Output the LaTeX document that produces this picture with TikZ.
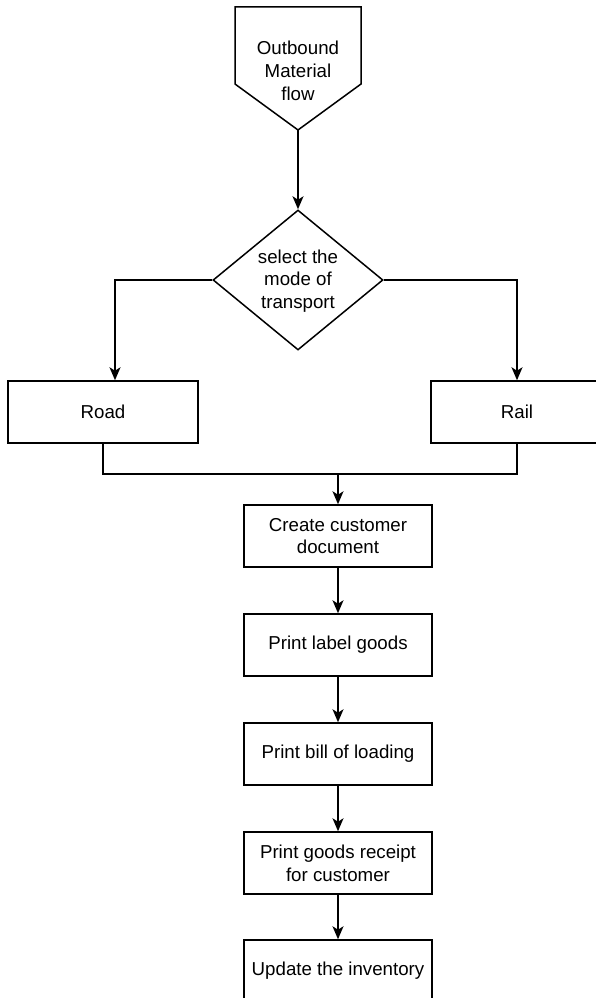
\documentclass[tikz,border=0pt]{standalone}
\usepackage{fontspec}
\setmainfont{Liberation Sans}
\usetikzlibrary{shapes.geometric,arrows.meta,calc}
\begin{document}
\begin{tikzpicture}[x=1pt,y=-1pt,
  line width=1.5pt,
  txt/.style={font=\fontsize{18.7}{22.8}\selectfont, align=center, inner sep=0pt},
  box/.style={draw, rectangle, minimum width=188pt, minimum height=62pt, inner sep=0pt, font=\fontsize{18.7}{22.8}\selectfont, align=center},
  arr/.style={-{Stealth[length=13pt,width=11pt,inset=3.5pt]}},
  conn/.style={line join=miter}]
\useasboundingbox (0,0) rectangle (596,998);
% start pentagon
\draw[conn] (235,7) -- (361,7) -- (361,84) -- (298,130) -- (235,84) -- cycle;
\coordinate (ptip) at (298,130);
\node[txt] (start) at (298,71) {Outbound\\Material\\flow};
% decision
\node[draw, diamond, minimum width=170pt, minimum height=140pt, inner sep=0pt] (dec) at (298,280) {};
\node[txt] (dectxt) at (298,281) {select the\\mode of\\transport};
% road / rail
\node[box, minimum width=190pt] (road) at (103,412) {Road};
\node[box, minimum width=172pt] (rail) at (517,412) {Rail};
% chain
\node[box] (c1) at (338,536) {Create customer\\document};
\node[box] (c2) at (338,645) {Print label goods};
\node[box] (c3) at (338,754) {Print bill of loading};
\node[box] (c4) at (338,863) {Print goods receipt\\for customer};
\node[box] (c5) at (338,971) {Update the inventory};
% connectors
\draw[arr] (ptip) -- (dec.north);
\draw[arr,conn] (dec.west) -| ([xshift=12pt]road.north);
\draw[arr,conn] (dec.east) -| (rail.north);
\coordinate (merge) at (338,474);
\draw[conn] (road.south) |- (merge);
\draw[conn] (rail.south) |- (merge);
\draw[arr] (merge) -- (c1.north);
\draw[arr] (c1) -- (c2);
\draw[arr] (c2) -- (c3);
\draw[arr] (c3) -- (c4);
\draw[arr] (c4) -- (c5);
\end{tikzpicture}
\end{document}
